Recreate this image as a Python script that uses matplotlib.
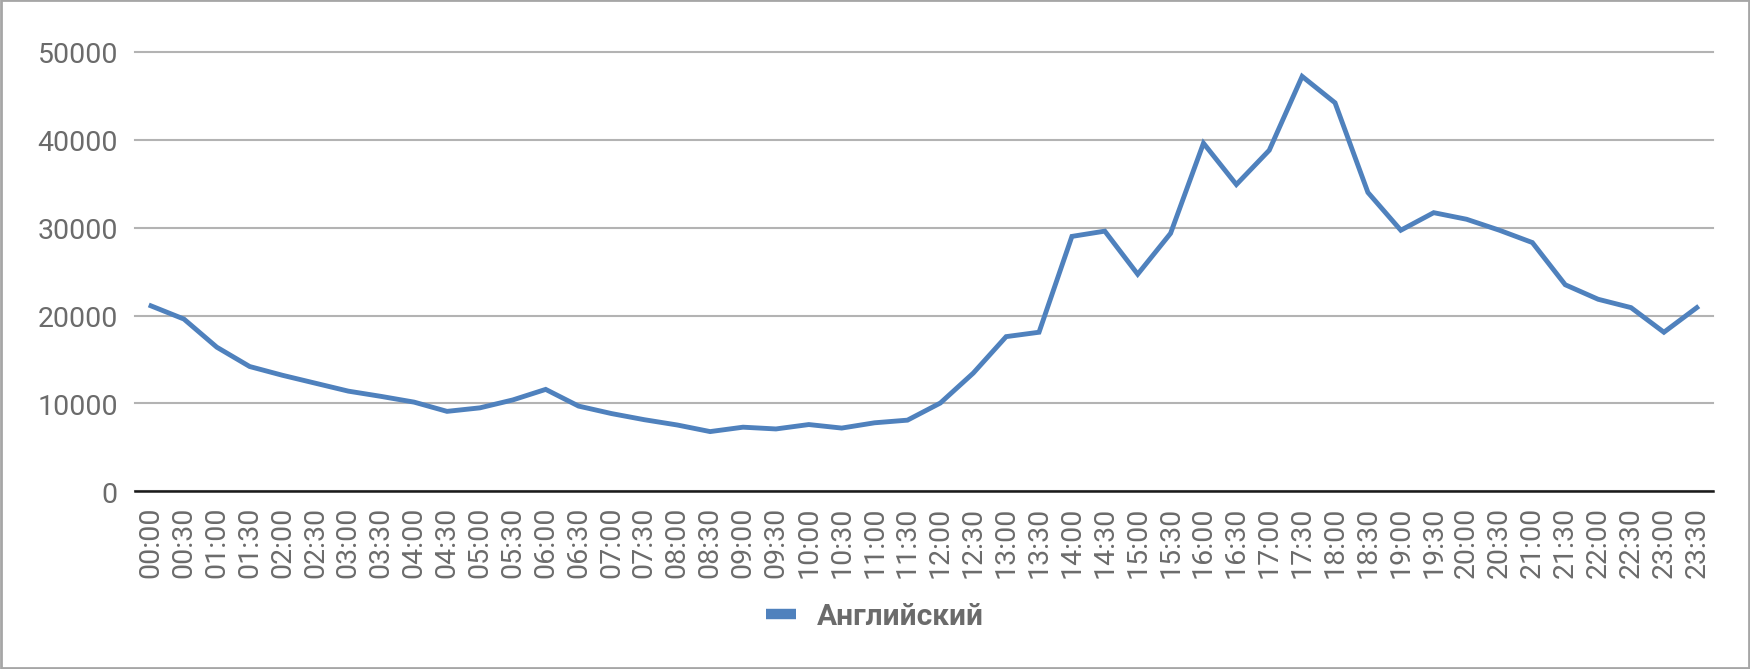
import matplotlib.pyplot as plt
from matplotlib.lines import Line2D
from matplotlib.patches import Rectangle

plt.rcParams['font.family'] = ['Roboto', 'DejaVu Sans']

# half-hour slots
times = ["%02d:%02d" % (h, m) for h in range(24) for m in (0, 30)]

# Английский
english = [21100, 19600, 16400, 14200, 13200, 12300, 11400, 10800,
           10150, 9100, 9500, 10400, 11600, 9700, 8850, 8150,
           7550, 6800, 7300, 7100, 7600, 7200, 7800, 8100,
           10050, 13450, 17600, 18100, 29000, 29600, 24700, 29350,
           39600, 34900, 38800, 47200, 44200, 34000, 29700, 31700,
           30950, 29700, 28300, 23500, 21850, 20900, 18100, 20900]

yticks = [0, 10000, 20000, 30000, 40000, 50000]

line_color = '#4F81BD'
text_color = '#6b6b6b'

fig = plt.figure(figsize=(17.5, 6.698), dpi=100)
ax = fig.add_axes([0.0769, 0.2652, 0.9021, 0.6563])

x = range(len(times))
ax.plot(x, english, color=line_color, lw=3.5, solid_joinstyle='miter', zorder=3)

ax.set_xlim(-0.5, len(times) - 0.5)
ax.set_ylim(0, 50000)
ax.set_xticks(list(x))
ax.set_xticklabels(times, rotation=90)
ax.set_yticks(yticks)
ax.set_yticklabels([str(v) for v in yticks])

for s in ax.spines.values():
    s.set_visible(False)
ax.tick_params(axis='both', length=0, labelsize=20.5, labelcolor=text_color)
ax.tick_params(axis='y', pad=12)
ax.tick_params(axis='x', pad=10.5)

ax.yaxis.grid(True, color='#b3b3b3', lw=1.5)
for gl in ax.get_ygridlines():
    gl.set_clip_on(False)
ax.axhline(0, color='#1a1a1a', lw=1.8, zorder=2, clip_on=False)

handle = Line2D([], [], color=line_color, lw=7.5, solid_capstyle='butt')
leg = fig.legend([handle], ['Английский'], loc='center', bbox_to_anchor=(0.5, 0.079),
                 frameon=False, handlelength=1.0, handletextpad=0.7,
                 prop={'size': 21.5, 'weight': 'bold'})
for t in leg.get_texts():
    t.set_color(text_color)

fig.patches.append(Rectangle((0.0008, 0.0015), 0.9984, 0.997, transform=fig.transFigure,
                             fill=False, edgecolor='#a6a6a6', lw=2))

fig.savefig('out.png', dpi=100)
